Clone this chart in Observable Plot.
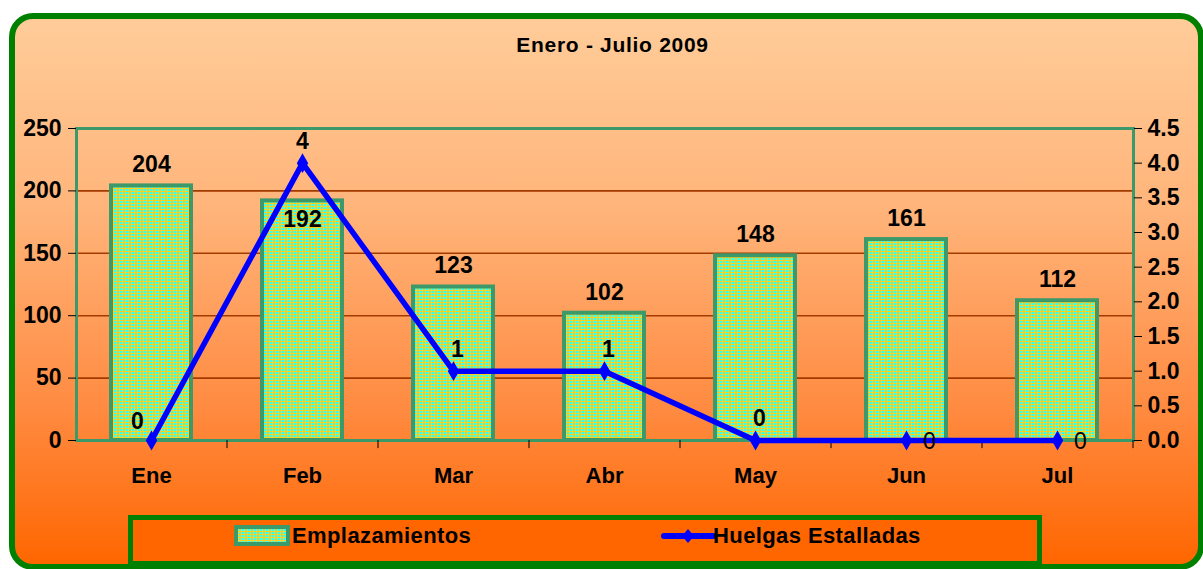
<!DOCTYPE html>
<html>
<head>
<meta charset="utf-8">
<script src="https://cdn.jsdelivr.net/npm/d3@7"></script>
<script src="https://cdn.jsdelivr.net/npm/@observablehq/plot@0.6"></script>
<style>
  html, body { margin: 0; padding: 0; background: #ffffff; width: 1203px; height: 569px; overflow: hidden; font-family: "Liberation Sans", Arial, sans-serif; }
  #frame { position: absolute; left: 9px; top: 13px; width: 1183px; height: 545px; border: 6px solid #008000; border-radius: 24px;
           background: linear-gradient(to bottom, #FFCC99 0%, #FFB47A 35%, #FF8A40 72%, #FF6600 100%); }
  #title { position: absolute; left: 0; width: 1225px; top: 33px; text-align: center; font-weight: bold; font-size: 21px; letter-spacing: 0.7px; color: #000; }
  #chart { position: absolute; left: 0; top: 0; }
  #legend { position: absolute; left: 128px; top: 515px; width: 904px; height: 41px; border: 5px solid #008000; background: #FF6600; }
  .lg { position: absolute; top: 2px; font-weight: bold; font-size: 22px; letter-spacing: 0.4px; color: #000; line-height: 28px; }
</style>
</head>
<body>
<div id="frame"></div>
<div id="title">Enero - Julio 2009</div>
<div id="chart"></div>
<div id="legend">
  <svg style="position:absolute;left:100px;top:3px" width="60" height="26">
    <defs>
      <pattern id="lgpat" width="3" height="3" patternUnits="userSpaceOnUse">
        <rect width="3" height="3" fill="#FFD21E"></rect>
        <rect width="2" height="2" fill="#33FFEE"></rect>
      </pattern>
    </defs>
    <rect x="3" y="4" width="52" height="17" fill="url(#lgpat)" stroke="#3C9A6A" stroke-width="4"></rect>
  </svg>
  <div class="lg" style="left:159px">Emplazamientos</div>
  <svg style="position:absolute;left:528px;top:3px" width="60" height="26">
    <line x1="3" y1="13" x2="52" y2="13" stroke="#0000FF" stroke-width="6" stroke-linecap="round"></line>
    <path d="M27,6 L33,13 L27,20 L21,13 Z" fill="#0000FF"></path>
  </svg>
  <div class="lg" style="left:580px">Huelgas Estalladas</div>
</div>
<script>
// ---- data ----
const months = ["Ene", "Feb", "Mar", "Abr", "May", "Jun", "Jul"];
const emplazamientos = [204, 192, 123, 102, 148, 161, 112];
const huelgas = [0, 4, 1, 1, 0, 0, 0];
const leftTicks = [0, 50, 100, 150, 200, 250];
const rightTicks = [0, 0.5, 1.0, 1.5, 2.0, 2.5, 3.0, 3.5, 4.0, 4.5];
const gridValues = [50, 100, 150, 200];

const leftMax = 250, rightMax = 4.5;
const k = leftMax / rightMax;

const data = months.map((m, i) => ({month: m, emp: emplazamientos[i], hue: huelgas[i]}));

const W = 1203, H = 569;
const mL = 76, mR = 70, mT = 128, mB = 129;
const step = (W - mL - mR) / months.length;
const font = "Liberation Sans, Arial, sans-serif";
const lbl = {fontSize: 23, fontWeight: "bold", fill: "#000"};

const chart = Plot.plot({
  width: W,
  height: H,
  marginLeft: mL,
  marginRight: mR,
  marginTop: mT,
  marginBottom: mB,
  style: {background: "transparent", fontFamily: font, overflow: "visible"},
  x: {type: "band", domain: months, paddingInner: 0.47, paddingOuter: 0.235, label: null},
  y: {domain: [0, leftMax], label: null},
  marks: [
    Plot.ruleY(gridValues, {stroke: "#A33A00", strokeWidth: 1.6}),
    Plot.barY(data, {x: "month", y: "emp", fill: "url(#barpat)", stroke: "#3C9A6A", strokeWidth: 4}),
    Plot.frame({stroke: "#3C9A6A", strokeWidth: 3}),
    // left axis
    Plot.axisY(leftTicks, {anchor: "left", tickSize: 8, tickPadding: 7, stroke: "#000", fontSize: 23, fontWeight: "bold", fill: "#000", label: null}),
    // right axis (secondary scale mapped onto the left scale)
    Plot.axisY(rightTicks.map(v => v * k), {anchor: "right", tickSize: 8, tickPadding: 6, stroke: "#000", fontSize: 23, fontWeight: "bold", fill: "#000", label: null,
      tickFormat: v => (v / k).toFixed(1)}),
    // x tick labels
    Plot.axisX({anchor: "bottom", tickSize: 0, tickPadding: 27, fontSize: 22, fontWeight: "bold", fill: "#000", label: null}),
    // x tick marks at band boundaries
    Plot.ruleX(months.slice(1), {x: d => d, dx: -step / 2, y1: 0, y2: -6.5, stroke: "#000", strokeWidth: 1}),
    Plot.ruleX(months.slice(-1), {x: d => d, dx: step / 2, y1: 0, y2: -6.5, stroke: "#000", strokeWidth: 1}),
    // line
    Plot.lineY(data, {x: "month", y: d => d.hue * k, stroke: "#0000FF", strokeWidth: 5.5}),
    Plot.dot(data, {x: "month", y: d => d.hue * k, symbol: "diamond", r: 6, fill: "#0000FF"}),
    // bar value labels
    Plot.text(data.filter(d => d.month !== "Feb"), {x: "month", y: "emp", text: d => String(d.emp), dy: -21, ...lbl}),
    Plot.text(data.filter(d => d.month === "Feb"), {x: "month", y: "emp", text: d => String(d.emp), dy: 19, ...lbl}),
    // line value labels
    Plot.text(data.filter(d => d.month === "Ene"), {x: "month", y: d => d.hue * k, text: d => String(d.hue), dx: -14, dy: -19, ...lbl}),
    Plot.text(data.filter(d => d.month === "Feb"), {x: "month", y: d => d.hue * k, text: d => String(d.hue), dx: 0, dy: -22, ...lbl}),
    Plot.text(data.filter(d => ["Mar", "Abr", "May"].includes(d.month)), {x: "month", y: d => d.hue * k, text: d => String(d.hue), dx: 4, dy: -22, ...lbl}),
    Plot.text(data.filter(d => ["Jun", "Jul"].includes(d.month)), {x: "month", y: d => d.hue * k, text: d => String(d.hue), dx: 23, dy: 1, fontSize: 23, fontWeight: "normal", fill: "#000"})
  ]
});

// pattern for bars
const svgns = "http://www.w3.org/2000/svg";
const defs = document.createElementNS(svgns, "defs");
defs.innerHTML = '<pattern id="barpat" width="3" height="3" patternUnits="userSpaceOnUse"><rect width="3" height="3" fill="#FFD21E"></rect><rect width="2" height="2" fill="#33FFEE"></rect></pattern>';
chart.insertBefore(defs, chart.firstChild);
document.getElementById("chart").appendChild(chart);
</script>
</body>
</html>
